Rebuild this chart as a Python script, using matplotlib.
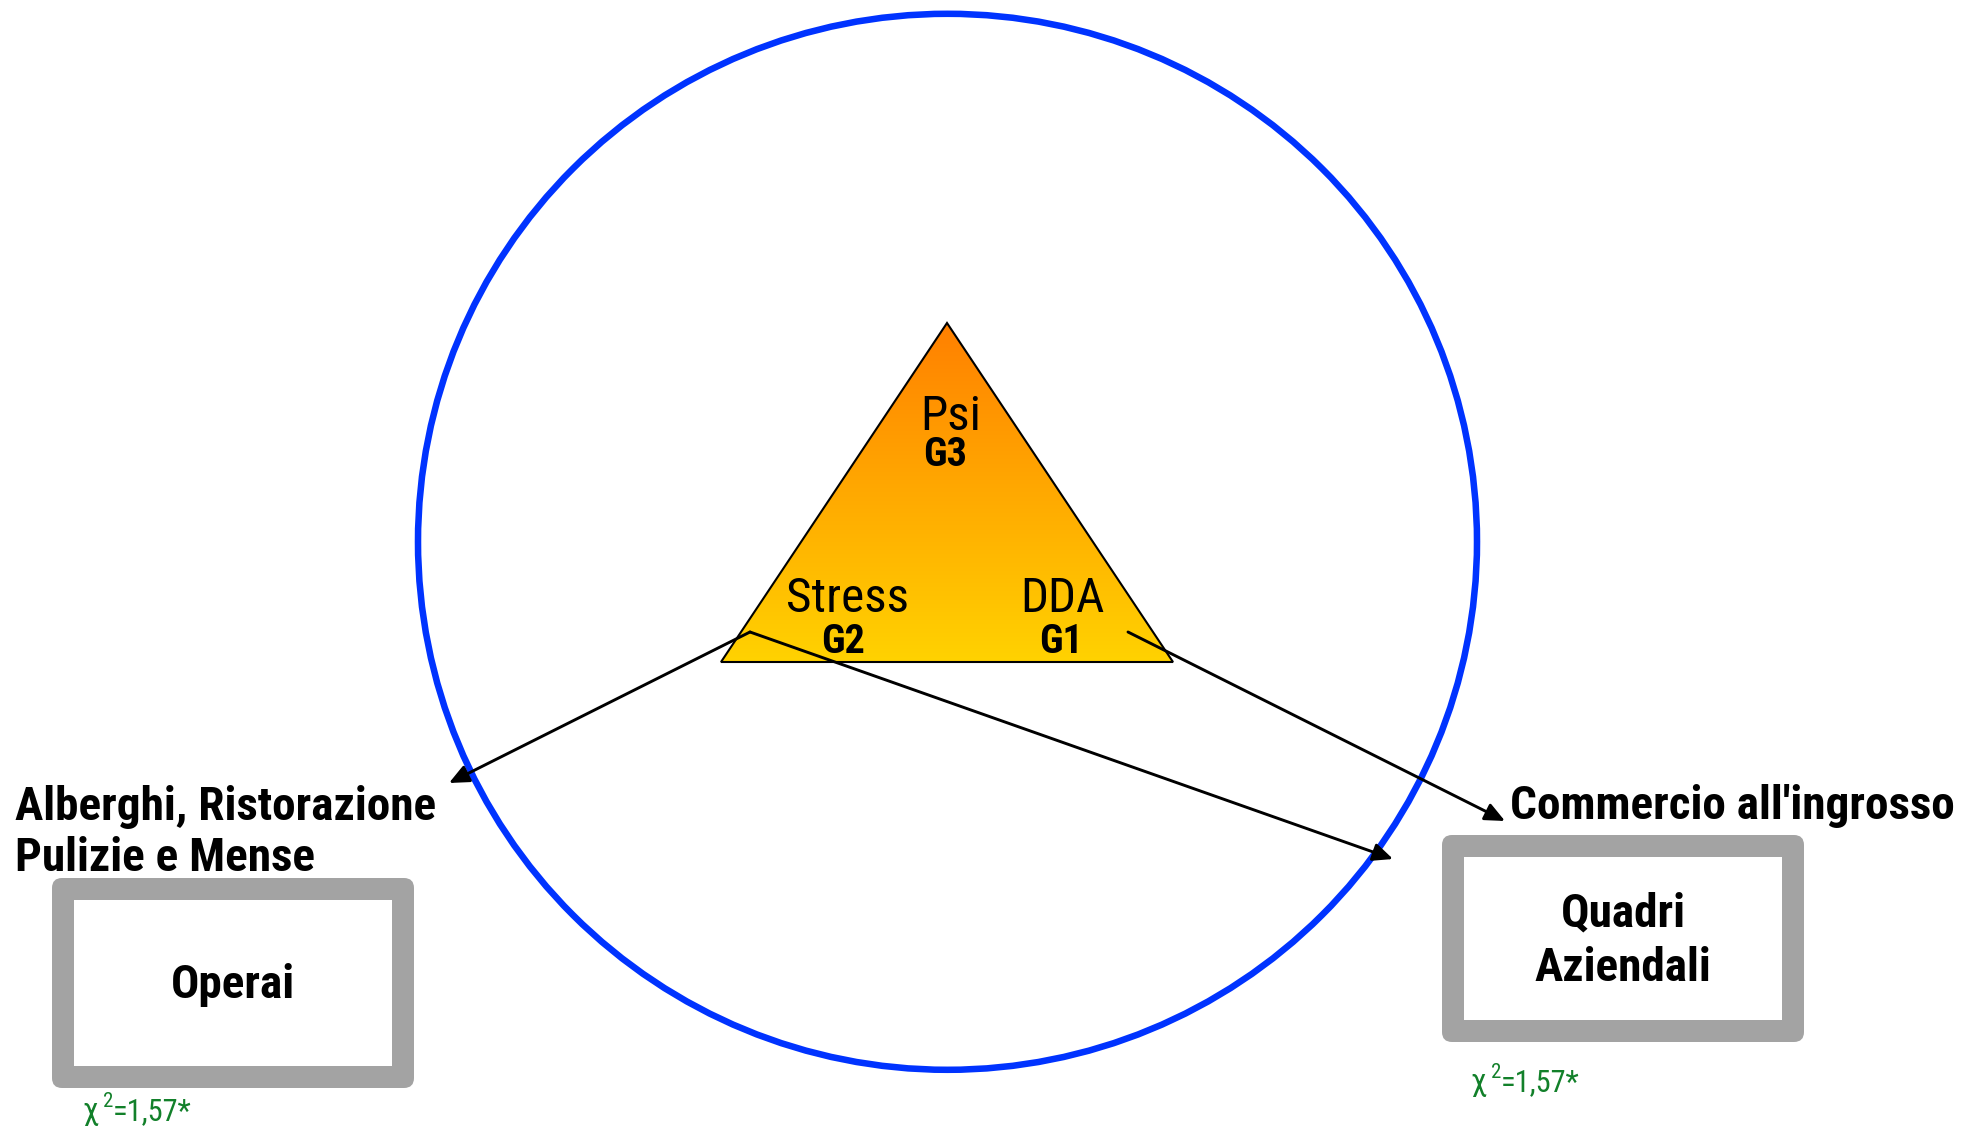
import numpy as np
import matplotlib
matplotlib.use('Agg')
import matplotlib.pyplot as plt
from matplotlib.patches import Ellipse, Polygon, FancyBboxPatch, Rectangle, FancyArrowPatch

FONT = ['Roboto Condensed', 'DejaVu Sans']

# triangle nodes (label, group, x, baseline)
nodes = ['Psi', 'Stress', 'DDA']
groups = ['G3', 'G2', 'G1']
node_x = [951, 847, 1062]
node_y = [430, 612, 612]
group_x = [945, 843, 1061]
group_y = [466, 653, 653]

tri_x = [947, 721, 1173]
tri_y = [323, 662, 662]

# outcome boxes
box_labels = ['Operai', 'Quadri\nAziendali']
box_left = [52, 1442]
box_top = [878, 835]
box_w = [362, 362]
box_h = [210, 207]
chi_value = ['=1,57*', '=1,57*']
chi_x = [82, 1470]
chi_y = [1120, 1091]

sectors = ['Alberghi, Ristorazione\nPulizie e Mense', "Commercio all'ingrosso"]
sector_x = [15, 1510]
sector_y = [820, 819]

# arrows: start -> end
arr_start = [(750, 632), (750, 632), (1128, 632)]
arr_end = [(449, 783), (1393, 859), (1505, 821)]

fig = plt.figure(figsize=(19.63, 11.27), dpi=100)
ax = fig.add_axes([0, 0, 1, 1])

# big blue circle
ax.add_patch(Ellipse((947.5, 541.8), 1059, 1056, fill=False, ec='#0033ff', lw=4.7, zorder=1))

# triangle with vertical gradient
tri = Polygon(list(zip(tri_x, tri_y)), closed=True, fc='none', ec='black', lw=1.5, zorder=4)
ax.add_patch(tri)
top_c = np.array([255, 128, 0]) / 255
bot_c = np.array([255, 210, 0]) / 255
t = np.linspace(0, 1, 256)[:, None, None]
grad = top_c * (1 - t) + bot_c * t
im = ax.imshow(grad, extent=(min(tri_x), max(tri_x), max(tri_y), min(tri_y)),
               origin='upper', aspect='auto', zorder=3)
im.set_clip_path(tri)

for lab, g, x, y, gx, gy in zip(nodes, groups, node_x, node_y, group_x, group_y):
    ax.text(x, y, lab, ha='center', va='baseline', fontsize=35.5, family=FONT, zorder=5)
    ax.text(gx, gy, g, ha='center', va='baseline', fontsize=29, fontweight='bold', family=FONT, zorder=5)

# arrows
for s, e in zip(arr_start, arr_end):
    ax.add_patch(FancyArrowPatch(s, e, arrowstyle='-|>,head_length=1.0,head_width=0.45',
                                 mutation_scale=12, lw=2.1, color='black',
                                 shrinkA=0, shrinkB=0, zorder=6))

# boxes
for lab, l, tp, w, h in zip(box_labels, box_left, box_top, box_w, box_h):
    ax.add_patch(FancyBboxPatch((l + 10, tp + 10), w - 20, h - 20,
                                boxstyle='round,pad=10', fc='#a3a3a3', ec='none', zorder=2))
    ax.add_patch(Rectangle((l + 22, tp + 22), w - 44, h - 44, fc='white', ec='none', zorder=2))
    ax.text(l + w / 2, tp + h / 2 + 2, lab, ha='center', va='center', fontsize=34,
            fontweight='bold', family=FONT, linespacing=1.3, zorder=5)

# chi-square notes
for val, x, y in zip(chi_value, chi_x, chi_y):
    ax.text(x, y, '\u03c7', ha='left', va='baseline', fontsize=23, color='#12802a', family=FONT)
    ax.text(x + 21, y - 13, '2', ha='left', va='baseline', fontsize=15, color='#12802a', family=FONT)
    ax.text(x + 31, y, val, ha='left', va='baseline', fontsize=22, color='#12802a', family=FONT)

for txt, x, y in zip(sectors, sector_x, sector_y):
    for i, ln in enumerate(txt.split('\n')):
        ax.text(x, y + i * 51, ln, ha='left', va='baseline', fontsize=34,
                fontweight='bold', family=FONT)

ax.set_xlim(0, 1963)
ax.set_ylim(1127, 0)
ax.axis('off')

fig.savefig('out.png', dpi=100)
